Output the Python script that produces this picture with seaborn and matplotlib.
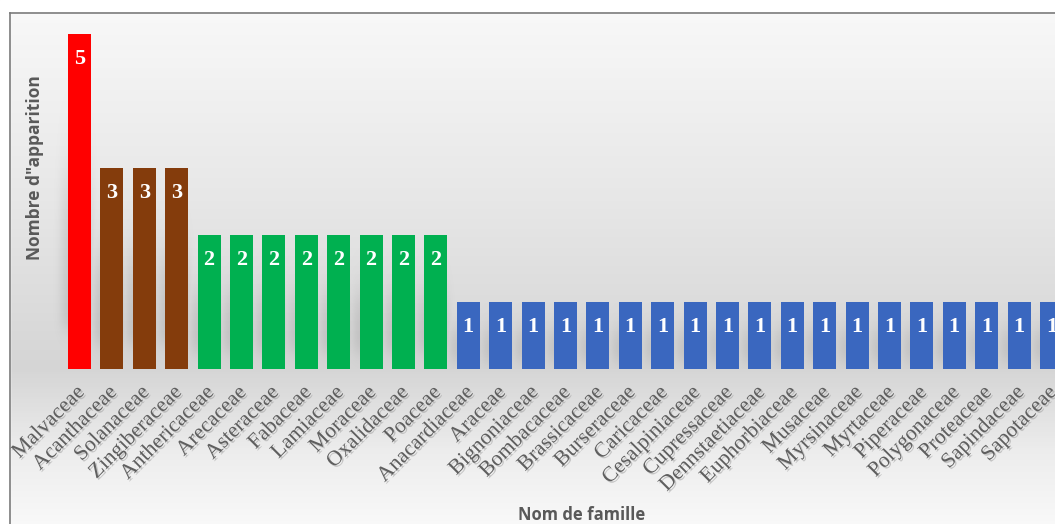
import numpy as np
import matplotlib
matplotlib.use("Agg")
import matplotlib.pyplot as plt
import matplotlib.patheffects as pe
import matplotlib.transforms as mtransforms
from matplotlib.colors import LinearSegmentedColormap, to_rgb
from matplotlib.lines import Line2D
import seaborn as sns

# ---- data ----
families = ["Malvaceae", "Acanthaceae", "Solanaceae", "Zingiberaceae",
            "Anthericaceae", "Arecaceae", "Asteraceae", "Fabaceae", "Lamiaceae",
            "Moraceae", "Oxalidaceae", "Poaceae",
            "Anacardiaceae", "Araceae", "Bignoniaceae", "Bombacaceae",
            "Brassicaceae", "Burseraceae", "Caricaceae", "Cesalpiniaceae",
            "Cupressaceae", "Dennstaetiaceae", "Euphorbiaceae", "Musaceae",
            "Myrsinaceae", "Myrtaceae", "Piperaceae", "Polygonaceae",
            "Proteaceae", "Sapindaceae", "Sapotaceae"]
counts = [5, 3, 3, 3,
          2, 2, 2, 2, 2, 2, 2, 2,
          1, 1, 1, 1, 1, 1, 1, 1, 1, 1, 1, 1, 1, 1, 1, 1, 1, 1, 1]
x_title = "Nom de famille"
y_title = 'Nombre d"apparition'

color_by_count = {5: "#FF0000", 3: "#843C0C", 2: "#00B050", 1: "#3A67BF"}
palette = [color_by_count[c] for c in counts]

W, H = 1055, 524
fig = plt.figure(figsize=(W / 100, H / 100), dpi=100)

# background gradient (figure-level)
bg = fig.add_axes([0, 0, 1, 1], zorder=0)
bg.set_axis_off()
stops = [(0.0, "#f9f9f9"), (200 / 524, "#e7e7e7"), (369 / 524, "#d5d5d5"),
         (450 / 524, "#ececec"), (1.0, "#f8f8f8")]
cmap = LinearSegmentedColormap.from_list("bgg", stops)
grad = np.linspace(0, 1, 524).reshape(-1, 1)
bg.imshow(grad, aspect="auto", cmap=cmap, extent=[0, 1, 0, 1], origin="upper",
          vmin=0, vmax=1)
bg.set_xlim(0, 1)
bg.set_ylim(0, 1)
bg.add_patch(plt.Rectangle((0, 1 - 13 / H), 1, 13 / H, color="white", zorder=2))
bg.add_patch(plt.Rectangle((0, 0), 10 / W, 1, color="white", zorder=2))

# main axes: bar i centred at 79.5 + 32.4*i px ; baseline at 369 px ; 67 px per unit
x0, x1 = -0.9, 31.5
left_px = 79.5 + 32.4 * x0
right_px = 79.5 + 32.4 * x1
ymax = 5.3
ax = fig.add_axes([left_px / W, (H - 369) / H, (right_px - left_px) / W,
                   ymax * 67 / H], zorder=1)
ax.patch.set_alpha(0)

# soft perspective shadows behind the bars (decorative)
gx = np.linspace(x0, x1, 900)
gy = np.linspace(0, ymax, 400)
XX, YY = np.meshgrid(gx, gy)
alpha = np.zeros_like(XX)
for i, v in enumerate(counts):
    lo, hi = 0.12 * v, 0.55 * v
    fx = np.exp(-((XX - (i - 0.1)) / 0.5) ** 4)
    fy = 1 / (1 + np.exp(-(YY - lo) / 0.08)) * 1 / (1 + np.exp((YY - hi) / (0.06 * v + 0.05)))
    alpha = np.maximum(alpha, fx * fy)
rgba = np.zeros(XX.shape + (4,))
rgba[..., :3] = to_rgb("#7a7a7a")
rgba[..., 3] = 0.25 * alpha
ax.imshow(rgba, extent=[x0, x1, 0, ymax], origin="lower", aspect="auto",
          zorder=1, interpolation="bilinear")

sns.barplot(x=families, y=counts, hue=families, palette=palette, legend=False,
            saturation=1, width=0.71, ax=ax, zorder=3)

ax.set_xlim(x0, x1)
ax.set_ylim(0, ymax)
for s in ax.spines.values():
    s.set_visible(False)
ax.set_yticks([])
ax.tick_params(axis="x", length=0, pad=15)

shadow = [pe.withSimplePatchShadow(offset=(1.2, -1.2), shadow_rgbFace="#9a9a9a",
                                   alpha=0.5)]
ax.set_xticks(range(len(families)))
ax.set_xticklabels(families, rotation=45, ha="right", rotation_mode="anchor",
                   fontfamily="Liberation Serif", fontsize=15.5, color="#5f5f5f",
                   va="center")
shift = mtransforms.ScaledTranslation(2.5 / 100, 0, fig.dpi_scale_trans)
for t in ax.get_xticklabels():
    t.set_path_effects(shadow)
    t.set_transform(t.get_transform() + shift)

for i, v in enumerate(counts):
    ax.text(i, v - 0.375, str(v), ha="center", va="center", color="white",
            fontfamily="Liberation Serif", fontweight="bold", fontsize=16,
            zorder=5)

ax.set_xlabel(x_title, fontfamily="Open Sans", fontweight="bold", fontsize=12,
              color="#595959")
ax.xaxis.set_label_coords((582 - left_px) / (right_px - left_px), (9 - 155) / 355)
ax.xaxis.label.set_va("center")
ax.set_ylabel(y_title, fontfamily="Open Sans", fontweight="bold", fontsize=12.5,
              color="#595959")
ax.yaxis.set_label_coords((35 - left_px) / (right_px - left_px), (356 - 155) / 355)
ax.yaxis.label.set_va("center")

# frame border
fig.add_artist(Line2D([10 / W, 10 / W], [0, 1 - 13 / H], color="#7a7a7a", lw=1.2))
fig.add_artist(Line2D([10 / W, 1], [1 - 13 / H, 1 - 13 / H], color="#7a7a7a", lw=1.2))

fig.savefig("out.png", dpi=100)
